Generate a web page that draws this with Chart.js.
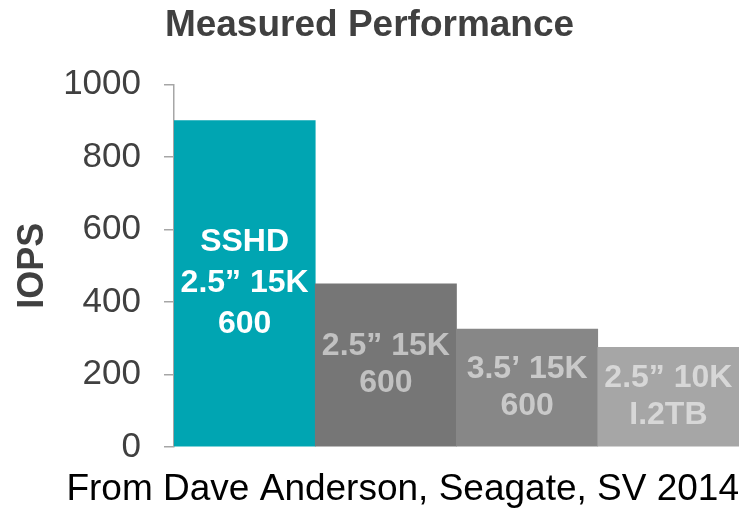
<!DOCTYPE html>
<html lang="en">
<head>
<meta charset="UTF-8">
<title>Measured Performance</title>
<script src="https://cdn.jsdelivr.net/npm/chart.js"></script>
<style>
    html, body { margin: 0; padding: 0; background: #ffffff; }
    #wrap { width: 749px; height: 508px; }
</style>
</head>
<body>
<div id="wrap"><canvas id="grafico"></canvas></div>
<script>
const categorias = ["SSHD 2.5\u201d 15K 600", "2.5\u201d 15K 600", "3.5\u2019 15K 600", "2.5\u201d 10K I.2TB"];
const iops = [900, 450, 325, 275];
const etiquetas = [
    ["SSHD", "2.5\u201d 15K", "600"],
    ["2.5\u201d 15K", "600"],
    ["3.5\u2019 15K", "600"],
    ["2.5\u201d 10K", "I.2TB"]
];
const colores = ["#00a5b2", "#767676", "#878787", "#a6a6a6"];
const coloresTexto = ["#ffffff", "rgba(255,255,255,0.55)", "rgba(255,255,255,0.55)", "rgba(255,255,255,0.55)"];
const ticksY = [0, 200, 400, 600, 800, 1000];

const FUENTE = "'Liberation Sans', Arial, sans-serif";

// texto dentro de cada barra
const textoBarras = {
    id: "textoBarras",
    afterDatasetsDraw(chart) {
        const ctx = chart.ctx;
        const meta = chart.getDatasetMeta(0);
        ctx.save();
        ctx.font = "bold 32px " + FUENTE;
        ctx.textAlign = "center";
        ctx.textBaseline = "middle";
        meta.data.forEach((bar, i) => {
            const lineas = etiquetas[i];
            const paso = lineas.length > 2 ? 41 : 37;
            const centro = (bar.y + bar.base) / 2;
            const inicio = centro - paso * (lineas.length - 1) / 2;
            ctx.fillStyle = coloresTexto[i];
            lineas.forEach((t, j) => ctx.fillText(t, bar.x, inicio + j * paso));
        });
        ctx.restore();
    }
};

new Chart(document.getElementById("grafico"), {
    type: "bar",
    data: {
        labels: categorias,
        datasets: [{
            label: "IOPS",
            data: iops,
            backgroundColor: colores,
            borderWidth: 0,
            categoryPercentage: 1.0,
            barPercentage: 1.0
        }]
    },
    options: {
        responsive: true,
        maintainAspectRatio: false,
        animation: false,
        layout: { padding: { left: 0, right: 10, top: 0, bottom: 0 } },
        plugins: {
            legend: { display: false },
            tooltip: { enabled: false },
            title: {
                display: true,
                text: "Measured Performance",
                color: "#404040",
                font: { family: FUENTE, size: 37, weight: "bold", lineHeight: 1.2 },
                padding: { top: 4, bottom: 36 }
            },
            subtitle: {
                display: true,
                position: "bottom",
                align: "end",
                text: "From Dave Anderson, Seagate, SV 2014",
                color: "#000000",
                font: { family: FUENTE, size: 37, lineHeight: 1 },
                padding: { top: 24, bottom: 0 }
            }
        },
        scales: {
            x: {
                display: false
            },
            y: {
                min: 0,
                max: 1000,
                afterBuildTicks(axis) {
                    axis.ticks = ticksY.map(v => ({ value: v }));
                },
                afterFit(axis) {
                    axis.width = 174;
                },
                grid: {
                    display: true,
                    drawOnChartArea: false,
                    drawTicks: true,
                    tickLength: 10,
                    color: "#a6a6a6",
                    lineWidth: 1.5
                },
                border: { display: true, color: "#a6a6a6", width: 1.5 },
                ticks: {
                    color: "#404040",
                    padding: 23,
                    font: { family: FUENTE, size: 35 },
                    callback: v => String(v)
                },
                title: {
                    display: true,
                    text: "IOPS",
                    color: "#404040",
                    font: { family: FUENTE, size: 36, weight: "bold", lineHeight: 1 },
                    padding: { top: 15, bottom: 11 }
                }
            }
        }
    },
    plugins: [textoBarras]
});
</script>
</body>
</html>
